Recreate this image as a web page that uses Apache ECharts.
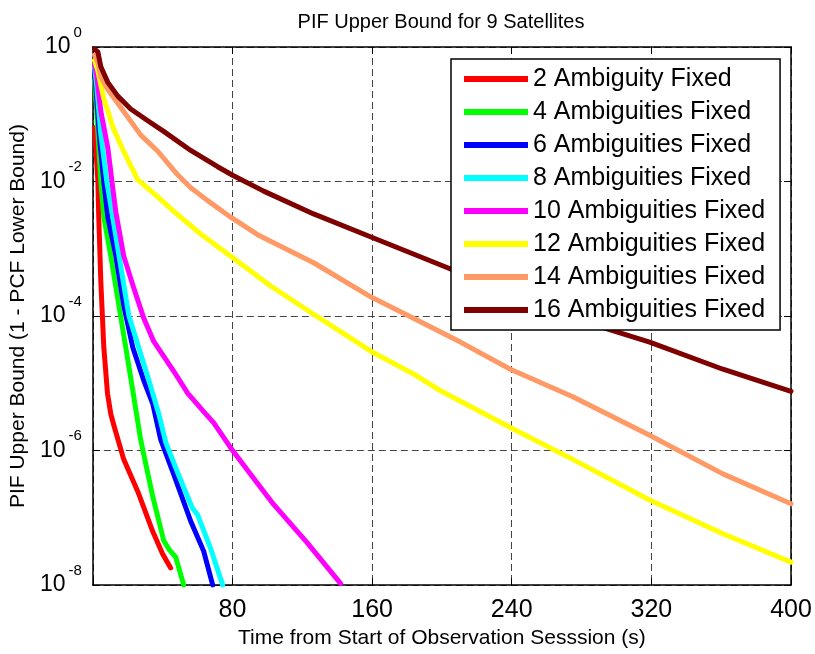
<!DOCTYPE html>
<html><head><meta charset="utf-8">
<script src="https://cdn.jsdelivr.net/npm/echarts@6/dist/echarts.min.js"></script>
<style>html,body{margin:0;padding:0;background:#fff}#c{width:815px;height:654px}</style>
</head><body><div id="c"></div>
<script>
// ---- data (time in s, PIF upper bound) ----
const seriesNames = ['2 Ambiguity Fixed','4 Ambiguities Fixed','6 Ambiguities Fixed','8 Ambiguities Fixed',
  '10 Ambiguities Fixed','12 Ambiguities Fixed','14 Ambiguities Fixed','16 Ambiguities Fixed'];
const seriesColors = ['#ff0000','#00ff00','#0000ff','#00ffff','#ff00ff','#ffff00','#ff9966','#7f0000'];

const amb2 = [[1,6.3e-2],[2.9,1.02e-2],[3.4,2.95e-3],[4.6,3.2e-4],[6.3,3.4e-5],[8.4,7.1e-6],[10.3,3.5e-6],
  [12.2,2.3e-6],[17.7,7.4e-7],[25.8,2.45e-7],[34.3,6.3e-8],[40,2.9e-8],[44.6,1.8e-8]];
const amb4 = [[1,3.2e-1],[2.3,1e-1],[4.6,1e-2],[6.3,2.95e-3],[10.3,7.8e-4],[14.9,1.45e-4],[18.9,3.4e-5],
  [22.9,7.8e-6],[27.5,1.41e-6],[34.1,2.2e-7],[40.6,4.6e-8],[44,3.3e-8],[47.5,2.6e-8],[52.1,1e-8]];
const amb6 = [[1,4.5e-1],[2.3,1.6e-1],[4.0,4e-2],[6.3,1e-2],[8.6,2.95e-3],[13.2,7.8e-4],[17.7,1.45e-4],
  [22.9,3.4e-5],[29.2,1.1e-5],[34.3,5e-6],[38.9,1.45e-6],[46.4,4.4e-7],[56.1,8.9e-8],[63.5,3.2e-8],[68.7,1e-8]];
const amb8 = [[1,5e-1],[2.3,2.5e-1],[4.6,5e-2],[8,1e-2],[11.4,2.95e-3],[16,5.5e-4],[20.6,1.02e-4],
  [27.5,2.7e-5],[33.2,8.9e-6],[37.8,3.5e-6],[41.8,1.32e-6],[49.2,4.3e-7],[57,1.4e-7],[60.1,1.1e-7],
  [67.5,3.5e-8],[74.4,1e-8]];
const amb10 = [[1,5.6e-1],[2.3,3.55e-1],[4.6,1.1e-1],[8.6,3.16e-2],[11.4,8.1e-3],[13.2,3.5e-3],[17.7,7.8e-4],
  [23.5,2.6e-4],[29.2,9.3e-5],[34.9,4.2e-5],[46.4,1.51e-5],[54.4,7.1e-6],[63.5,3.8e-6],[69.2,2.6e-6],
  [80.1,1e-6],[92,3.9e-7],[103.6,1.58e-7],[123,4.2e-8],[142,1.05e-8]];
const amb12 = [[1,6.3e-1],[2.9,4.4e-1],[6.3,1.7e-1],[12,6e-2],[17.7,2.8e-2],[25.7,1.07e-2],[31.5,7.9e-3],
  [37.2,5.9e-3],[46.4,3.6e-3],[61.8,1.66e-3],[80,7.4e-4],[101.9,2.8e-4],[127.6,1.02e-4],[159.7,2.95e-5],
  [183.7,1.38e-5],[199,7.8e-6],[239.2,2.2e-6],[275,7.4e-7],[318.7,1.86e-7],[361,5.8e-8],[400,2.2e-8]];
const amb14 = [[1,7.6e-1],[2.9,5.9e-1],[4.6,3.6e-1],[8.6,2.34e-1],[17.7,1.1e-1],[27.5,4.9e-2],[37.2,2.82e-2],
  [48.6,1.26e-2],[56.1,8.1e-3],[65.8,5.2e-3],[79,2.95e-3],[94.4,1.62e-3],[126.5,6.2e-4],[159.7,1.9e-4],
  [183.7,9.3e-5],[210.6,4.1e-5],[239.2,1.62e-5],[275,6.3e-6],[318.7,1.7e-6],[361,4.5e-7],[400,1.62e-7]];
const amb16 = [[1,9.3e-1],[2.9,8.45e-1],[4.6,5.1e-1],[8.6,2.98e-1],[14.3,1.86e-1],[21.7,1.2e-1],[31.5,8e-2],
  [40.6,5.56e-2],[56.1,2.9e-2],[71.5,1.66e-2],[80.1,1.24e-2],[97.9,7.2e-3],[126.5,3.3e-3],[159,1.51e-3],
  [184,8.3e-4],[205,5e-4],[250,1.82e-4],[291,6.9e-5],[319,4.1e-5],[361,1.62e-5],[400,7.6e-6]];
const seriesData = [amb2, amb4, amb6, amb8, amb10, amb12, amb14, amb16];

const xTicks = [0, 80, 160, 240, 320, 400];
const yTickExponents = [-8, -6, -4, -2, 0];

const titleText = 'PIF Upper Bound for 9 Satellites';
const xName = 'Time from Start of Observation Sesssion (s)';
const yName = 'PIF Upper Bound (1 - PCF Lower Bound)';

// ---- chart ----
const SANS = "'Liberation Sans',Arial,sans-serif";
const chart = echarts.init(document.getElementById('c'), null, {renderer: 'canvas'});
const dashed = {show: true, lineStyle: {type: [7, 4], color: '#444', width: 1}};
const axisLine = {show: true, onZero: false, lineStyle: {color: '#000', width: 1.5}};
const tick = {show: true, inside: true, length: 7, lineStyle: {color: '#000', width: 1}};

const option = {
  animation: false,
  backgroundColor: '#fff',
  graphic: [{type: 'text', x: 441, y: 22, style: {text: titleText, font: '20px ' + SANS,
    fill: '#000', textAlign: 'center', textVerticalAlign: 'middle'}}],
  grid: {left: 92, right: 24, top: 47, bottom: 59, containLabel: false},
  legend: {
    orient: 'vertical', left: 451, top: 59,
    data: seriesNames, icon: 'rect', itemWidth: 64, itemHeight: 6, itemGap: 7,
    padding: [7, 15, 7, 13], borderColor: '#000', borderWidth: 1.5, backgroundColor: '#fff',
    textStyle: {fontFamily: SANS, fontSize: 25, color: '#000', lineHeight: 26},
    selectedMode: false
  },
  xAxis: [{
    type: 'value', min: xTicks[0], max: xTicks[xTicks.length - 1], interval: xTicks[1] - xTicks[0],
    position: 'bottom', axisLine, axisTick: tick, splitLine: dashed,
    axisLabel: {fontFamily: SANS, fontSize: 25, color: '#000', margin: 13,
      formatter: v => (v === 0 ? '' : String(v))},
    name: xName, nameLocation: 'middle', nameGap: 30,
    nameTextStyle: {fontFamily: SANS, fontSize: 21, color: '#000'}
  }, {
    type: 'value', min: xTicks[0], max: xTicks[xTicks.length - 1], interval: xTicks[1] - xTicks[0],
    position: 'top', axisLine, axisTick: tick, axisLabel: {show: false}, splitLine: {show: false}
  }],
  yAxis: [{
    type: 'log', logBase: 10, min: Math.pow(10, yTickExponents[0]), max: Math.pow(10, yTickExponents[yTickExponents.length-1]),
    interval: 2, splitNumber: 4,
    position: 'left', axisLine, axisTick: tick, splitLine: dashed,
    axisLabel: {
      margin: 11, color: '#000',
      formatter: v => '{b|10}{s|' + Math.round(Math.log10(v)) + '}',
      rich: {
        b: {fontFamily: SANS, fontSize: 23, lineHeight: 44, color: '#000'},
        s: {fontFamily: SANS, fontSize: 15, lineHeight: 15, verticalAlign: 'top', color: '#000', padding: [0, 0, 0, 3]}
      }
    },
    name: yName, nameLocation: 'middle', nameGap: 62,
    nameTextStyle: {fontFamily: SANS, fontSize: 21, color: '#000'}
  }, {
    type: 'log', logBase: 10, min: Math.pow(10, yTickExponents[0]), max: Math.pow(10, yTickExponents[yTickExponents.length-1]),
    interval: 2, splitNumber: 4,
    position: 'right', axisLine, axisTick: tick, axisLabel: {show: false}, splitLine: {show: false}
  }],
  series: seriesData.map((d, i) => ({
    name: seriesNames[i], type: 'line', data: d, xAxisIndex: 0, yAxisIndex: 0,
    showSymbol: false, symbol: 'none', smooth: false, clip: true,
    color: seriesColors[i],
    lineStyle: {width: 5, color: seriesColors[i], cap: 'round', join: 'round'}
  }))
};
chart.setOption(option);
</script></body></html>
